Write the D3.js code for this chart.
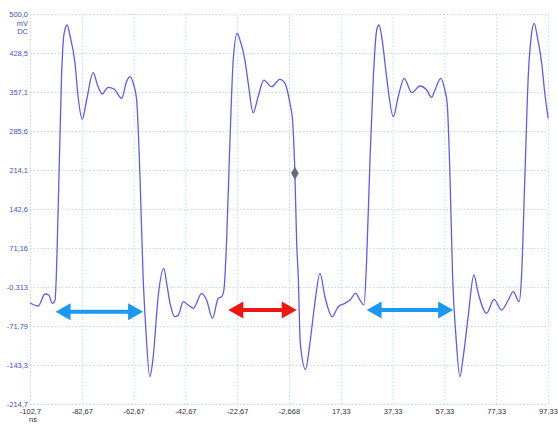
<!DOCTYPE html>
<html lang="en">
<head>
  <meta charset="UTF-8">
  <title>Waveform</title>
  <script src="https://d3js.org/d3.v7.min.js"></script>
  <style>
    body { margin: 0; background: white; font-family: "Liberation Sans", Arial, sans-serif; }
    svg text { font-size: 7.5px; }
    .grid line, .grid path { stroke: #b3dcec; stroke-dasharray: 1.5,2; stroke-width: 1; }
  </style>
</head>
<body>
  <svg id="chart" width="558" height="424"></svg>

  <script>
    // time in ns, level in mV
    const timeNs = [-102.7, -99.5, -96.9, -95.4, -94.1, -93.0, -91.8, -90.5, -89.5, -88.3, -87.3, -85.3, -84.1, -82.5, -80.8, -78.3, -76.6, -74.8, -72.5, -70.1, -67.3, -65.4, -64.1, -62.8, -61.5, -60.2, -59.0, -58.0, -56.4, -55.1, -53.2, -51.0, -49.9, -48.6, -46.7, -45.4, -43.5, -41.6, -39.6, -36.4, -34.5, -32.2, -30.0, -28.7, -27.8, -26.8, -25.5, -24.2, -22.7, -21.6, -19.7, -18.4, -16.5, -14.6, -12.4, -9.4, -6.2, -4.2, -2.3, -1.3, -0.4, 0.3, 0.9, 1.7, 3.7, 5.4, 7.3, 9.3, 11.2, 14.0, 16.3, 18.9, 20.9, 23.1, 24.7, 26.3, 27.3, 28.6, 29.9, 31.2, 32.1, 33.3, 35.0, 37.6, 39.5, 41.8, 44.7, 47.9, 50.5, 52.4, 53.7, 55.9, 57.5, 58.4, 59.5, 60.5, 61.8, 63.3, 64.6, 66.5, 68.7, 70.4, 73.6, 76.5, 79.4, 82.0, 83.9, 86.2, 87.1, 88.4, 89.7, 91.0, 92.0, 93.2, 94.9, 96.1, 97.4];
    const levelMv = [-29.1, -35.1, -13.1, -15.0, -30.2, -24.1, 140.8, 385.1, 464.6, 479.8, 461.5, 409.7, 348.4, 307.0, 342.4, 392.4, 369.9, 353.4, 365.7, 362.0, 345.5, 375.9, 385.1, 373.0, 342.4, 201.8, 18.6, -73.1, -164.7, -128.0, -18.1, 34.0, 6.5, -30.2, -54.7, -51.6, -27.2, -33.3, -39.3, -11.9, -24.1, -57.7, -21.0, -18.1, -5.8, 79.8, 263.0, 415.7, 464.6, 452.4, 415.7, 373.0, 319.1, 348.4, 379.0, 366.8, 380.3, 373.0, 336.3, 305.7, 208.1, 79.8, 18.6, -103.5, -151.1, -103.5, -30.2, 24.8, -18.1, -54.7, -36.4, -30.2, -24.1, -11.9, -24.1, -33.3, 49.2, 232.4, 385.1, 470.7, 479.8, 452.4, 385.1, 311.8, 348.4, 382.2, 355.8, 368.1, 360.7, 347.3, 360.7, 382.2, 360.7, 336.3, 201.8, 18.6, -91.4, -164.7, -128.0, -54.7, 21.7, -11.9, -48.5, -22.8, -42.5, -24.1, -8.9, -27.2, 18.6, 201.8, 385.1, 464.6, 483.0, 458.4, 409.7, 354.7, 308.9];

    const xTickValues = [-102.67, -82.67, -62.67, -42.67, -22.67, -2.668, 17.33, 37.33, 57.33, 77.33, 97.33];
    const xTickLabels = ["-102,7", "-82,67", "-62,67", "-42,67", "-22,67", "-2,668", "17,33", "37,33", "57,33", "77,33", "97,33"];
    const yTickValues = [500.0, 428.5, 357.1, 285.6, 214.1, 142.6, 71.16, -0.313, -71.79, -143.3, -214.7];
    const yTickLabels = ["500,0", "428,5", "357,1", "285,6", "214,1", "142,6", "71,16", "-0,313", "-71,79", "-143,3", "-214,7"];

    // measurement arrows: [start ns, end ns, level mV]
    const arrowStart = [-92.8, -26.1, 27.3];
    const arrowEnd = [-59.0, 0.3, 60.7];
    const arrowLevel = [-45.6, -42.5, -42.5];
    const arrowColor = ["#1a98f2", "#ee1515", "#1a98f2"];

    const cursorTime = -0.4, cursorLevel = 208.1;

    const svg = d3.select("#chart");
    const margin = { left: 30, top: 14, right: 10, bottom: 20 };
    const width = 558 - margin.left - margin.right;
    const height = 424 - margin.top - margin.bottom;

    const x = d3.scaleLinear().domain([-102.67, 97.33]).range([0, width]);
    const y = d3.scaleLinear().domain([-214.7, 500.0]).range([height, 0]);

    const g = svg.append("g").attr("transform", "translate(" + margin.left + "," + margin.top + ")");

    // grid via axes
    const xAxis = g.append("g")
      .attr("class", "grid")
      .attr("transform", "translate(0," + height + ")")
      .call(d3.axisBottom(x).tickValues(xTickValues).tickSize(-height).tickPadding(6)
        .tickFormat((d, i) => xTickLabels[i]));
    xAxis.select(".domain").remove();
    xAxis.selectAll("text").attr("fill", "#333").attr("dy", "0.5em");

    const yAxis = g.append("g")
      .attr("class", "grid")
      .call(d3.axisLeft(y).tickValues(yTickValues).tickSize(-width).tickPadding(2)
        .tickFormat((d, i) => yTickLabels[i]));
    yAxis.select(".domain").remove();
    yAxis.selectAll("text").attr("fill", "#3f4fd6");

    // units
    g.append("text").attr("x", -2).attr("y", 12).attr("text-anchor", "end").attr("fill", "#3f4fd6").text("mV");
    g.append("text").attr("x", -2).attr("y", 20).attr("text-anchor", "end").attr("fill", "#3f4fd6").text("DC");
    g.append("text").attr("x", 3).attr("y", height + 18).attr("text-anchor", "middle").attr("fill", "#333").text("ns");

    // waveform
    const line = d3.line()
      .x((d, i) => x(timeNs[i]))
      .y((d, i) => y(levelMv[i]))
      .curve(d3.curveMonotoneX);

    g.append("path")
      .datum(levelMv)
      .attr("d", line)
      .attr("fill", "none")
      .attr("stroke", "#5c5cf2")
      .attr("stroke-width", 1.3);

    // arrows
    const headLen = 15, headHalf = 8.5, shaftHalf = 2;
    function arrowPath(x1, x2, yy) {
      return "M" + x1 + "," + yy +
        "L" + (x1 + headLen) + "," + (yy - headHalf) +
        "L" + (x1 + headLen) + "," + (yy - shaftHalf) +
        "L" + (x2 - headLen) + "," + (yy - shaftHalf) +
        "L" + (x2 - headLen) + "," + (yy - headHalf) +
        "L" + x2 + "," + yy +
        "L" + (x2 - headLen) + "," + (yy + headHalf) +
        "L" + (x2 - headLen) + "," + (yy + shaftHalf) +
        "L" + (x1 + headLen) + "," + (yy + shaftHalf) +
        "L" + (x1 + headLen) + "," + (yy + headHalf) + "Z";
    }
    g.selectAll(".arrow")
      .data(arrowStart)
      .enter().append("path")
      .attr("class", "arrow")
      .attr("d", (d, i) => arrowPath(x(arrowStart[i]), x(arrowEnd[i]), y(arrowLevel[i])))
      .attr("fill", (d, i) => arrowColor[i]);

    // cursor marker
    g.append("path")
      .attr("d", d3.symbol().type(d3.symbolDiamond).size(50))
      .attr("transform", "translate(" + x(cursorTime) + "," + y(cursorLevel) + ")")
      .attr("fill", "#6a6a7a");
  </script>
</body>
</html>
